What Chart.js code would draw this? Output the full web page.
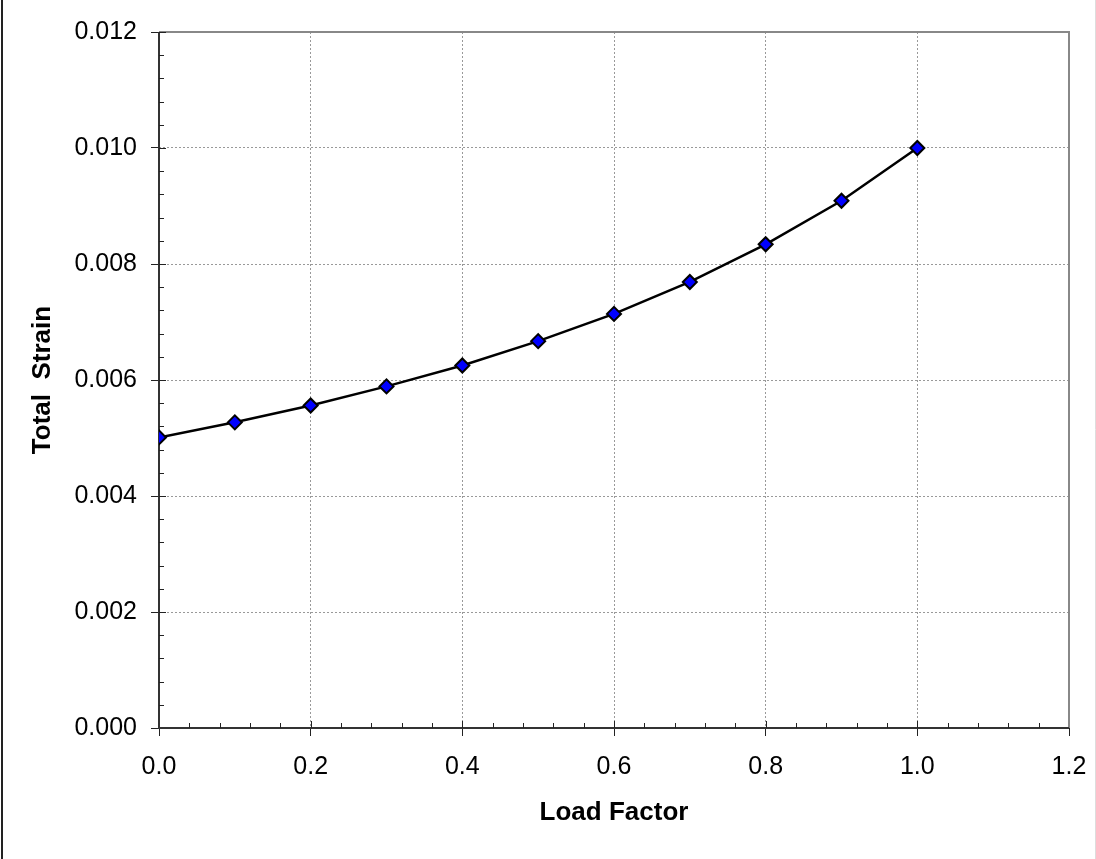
<!DOCTYPE html>
<html>
<head>
<meta charset="utf-8">
<title>Total Strain vs Load Factor</title>
<script src="https://cdn.jsdelivr.net/npm/chart.js@4"></script>
<style>
  html, body { margin: 0; padding: 0; background: #fff; }
  #wrap { width: 1096px; height: 859px; }
</style>
</head>
<body>
<div id="wrap"><canvas id="strainChart" width="1096" height="859"></canvas></div>
<script>
const loadFactor = [0.0, 0.1, 0.2, 0.3, 0.4, 0.5, 0.6, 0.7, 0.8, 0.9, 1.0];
const totalStrain = [0.00501, 0.00527, 0.00556, 0.00589, 0.00625, 0.00667, 0.00714, 0.00769, 0.00834, 0.00909, 0.01000];
const xTicks = [0.0, 0.2, 0.4, 0.6, 0.8, 1.0, 1.2];
const yTicks = [0.000, 0.002, 0.004, 0.006, 0.008, 0.010, 0.012];
const xMinorStep = 0.04;
const yMinorStep = 0.0004;

const fontFamily = '"Liberation Sans", Arial, sans-serif';

// frame, inward ticks and minor ticks, drawn under the markers
const framePlugin = {
  id: 'frame',
  beforeDraw(chart) {
    const ctx = chart.ctx;
    ctx.save();
    ctx.fillStyle = '#fff';
    ctx.fillRect(0, 0, chart.width, chart.height);
    ctx.strokeStyle = '#222';
    ctx.lineWidth = 2;
    ctx.beginPath();
    ctx.moveTo(2, 0);
    ctx.lineTo(2, chart.height);
    ctx.stroke();
    ctx.strokeStyle = '#ddd';
    ctx.lineWidth = 1;
    ctx.beginPath();
    ctx.moveTo(chart.width - 0.5, 0);
    ctx.lineTo(chart.width - 0.5, chart.height);
    ctx.stroke();
    ctx.restore();
  },
  beforeDatasetsDraw(chart) {
    const {ctx, chartArea: a, scales: {x, y}} = chart;
    ctx.save();
    // top and right border
    ctx.strokeStyle = '#888';
    ctx.lineWidth = 2;
    ctx.beginPath();
    ctx.moveTo(a.left, a.top);
    ctx.lineTo(a.right, a.top);
    ctx.lineTo(a.right, a.bottom);
    ctx.stroke();
    // axis lines
    ctx.strokeStyle = '#333';
    ctx.beginPath();
    ctx.moveTo(a.left, a.top);
    ctx.lineTo(a.left, a.bottom);
    ctx.lineTo(a.right, a.bottom);
    ctx.stroke();
    // ticks pointing inward
    ctx.lineWidth = 1;
    ctx.strokeStyle = '#222';
    ctx.beginPath();
    for (let i = 1; i < Math.round((x.max - x.min) / xMinorStep); i++) {
      const v = x.min + i * xMinorStep;
      const px = Math.round(x.getPixelForValue(v)) + 0.5;
      const major = i % 5 === 0;
      ctx.moveTo(px, a.bottom);
      ctx.lineTo(px, a.bottom - (major ? 7 : 5));
    }
    for (let i = 1; i <= Math.round((y.max - y.min) / yMinorStep); i++) {
      const v = y.min + i * yMinorStep;
      const py = Math.round(y.getPixelForValue(v)) + 0.5;
      const major = i % 5 === 0;
      ctx.moveTo(a.left, py);
      ctx.lineTo(a.left + (major ? 7 : 5), py);
    }
    ctx.stroke();
    ctx.restore();
  }
};

const ctx = document.getElementById('strainChart').getContext('2d');
new Chart(ctx, {
  type: 'line',
  data: {
    datasets: [{
      label: 'Total Strain',
      data: loadFactor.map((lf, i) => ({ x: lf, y: totalStrain[i] })),
      borderColor: '#000',
      borderWidth: 2.5,
      pointStyle: 'rectRot',
      pointRadius: 7,
      pointBackgroundColor: '#0000ff',
      pointBorderColor: '#000',
      pointBorderWidth: 2,
      tension: 0,
      fill: false
    }]
  },
  options: {
    responsive: false,
    animation: false,
    devicePixelRatio: 1,
    layout: { padding: { top: 32, right: 27, left: 0, bottom: 0 } },
    plugins: {
      legend: { display: false },
      tooltip: { enabled: false }
    },
    scales: {
      x: {
        type: 'linear',
        min: 0,
        max: 1.2,
        afterFit(scale) {
          scale.height = 131;
          scale.paddingLeft = 0;
          scale.paddingRight = 0;
        },
        afterBuildTicks(scale) { scale.ticks = xTicks.map(v => ({ value: v })); },
        ticks: {
          color: '#000',
          padding: 16,
          maxRotation: 0,
          font: { family: fontFamily, size: 25 },
          callback: v => Number(v).toFixed(1)
        },
        grid: {
          color: '#999',
          lineWidth: 1,
          tickLength: 8,
          tickColor: '#222'
        },
        border: { display: false, dash: [2, 2] },
        title: {
          display: true,
          text: 'Load Factor',
          color: '#000',
          font: { family: fontFamily, size: 26, weight: 'bold' },
          padding: { top: 0, bottom: 31 }
        }
      },
      y: {
        type: 'linear',
        min: 0,
        max: 0.012,
        afterFit(scale) {
          scale.width = 159;
          scale.paddingTop = 0;
          scale.paddingBottom = 0;
        },
        afterBuildTicks(scale) { scale.ticks = yTicks.map(v => ({ value: v })); },
        ticks: {
          color: '#000',
          padding: 14,
          font: { family: fontFamily, size: 25 },
          callback: v => Number(v).toFixed(3)
        },
        grid: {
          color: '#999',
          lineWidth: 1,
          tickLength: 8,
          tickColor: '#222'
        },
        border: { display: false, dash: [2, 2] },
        title: {
          display: true,
          text: 'Total  Strain',
          color: '#000',
          font: { family: fontFamily, size: 26, weight: 'bold' },
          padding: { top: 27, bottom: 0 }
        }
      }
    }
  },
  plugins: [framePlugin]
});
</script>
</body>
</html>
